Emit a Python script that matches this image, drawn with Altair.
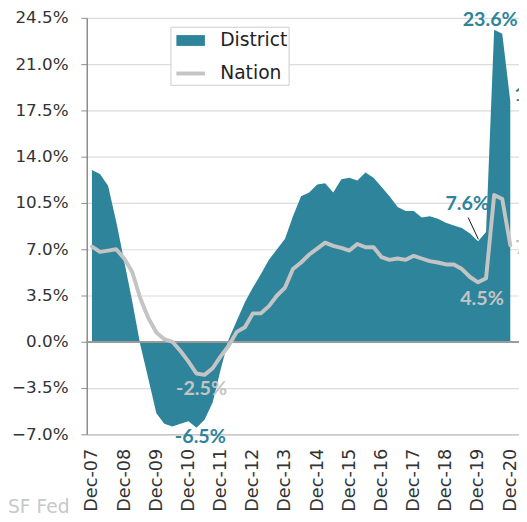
import altair as alt
import pandas as pd

# Quarterly observations, Dec-07 .. Dec-20
quarters = []
for i in range(53):
    m = 12 + 3 * i
    yr = 2007 + (m - 1) // 12
    mo = (m - 1) % 12 + 1
    quarters.append(f"{yr}/{mo:02d}/01")

district = [13.0, 12.7, 11.8, 9.1, 6.1, 3.1, -0.2, -2.8, -5.4, -6.2,
            -6.4, -6.2, -6.0, -6.5, -5.9, -4.6, -2.1, 0.2, 1.6, 3.0,
            4.1, 5.1, 6.2, 7.0, 7.8, 9.5, 11.0, 11.3, 11.9, 12.0,
            11.3, 12.3, 12.4, 12.2, 12.8, 12.4, 11.7, 11.0, 10.2, 9.9,
            9.9, 9.4, 9.5, 9.3, 9.0, 8.8, 8.6, 8.2, 7.6, 8.3,
            23.6, 23.3, 18.2]
nation = [7.2, 6.8, 6.9, 7.0, 6.3, 5.3, 3.3, 1.8, 0.7, 0.2,
          0.0, -0.7, -1.5, -2.4, -2.5, -2.0, -1.1, -0.3, 0.75, 1.1,
          2.15, 2.15, 2.7, 3.5, 4.1, 5.5, 6.0, 6.6, 7.05, 7.5,
          7.25, 7.1, 6.9, 7.4, 7.15, 7.15, 6.4, 6.2, 6.3, 6.2,
          6.5, 6.3, 6.1, 6.0, 5.85, 5.85, 5.5, 4.9, 4.5, 4.8,
          11.1, 10.8, 7.3]

series_names = ["District", "Nation"]
series_colors = ["#2e849b", "#c4c4c4"]
y_ticks = [-7.0, -3.5, 0.0, 3.5, 7.0, 10.5, 14.0, 17.5, 21.0, 24.5]
x_tick_years = list(range(2007, 2021))

# annotations
ann_dates = ["2020/06/01", "2020/12/01", "2019/12/01", "2019/12/01",
             "2011/06/01", "2011/03/01", "2020/12/01"]
ann_values = [23.6, 18.2, 7.6, 4.5, -2.5, -6.5, 7.3]
ann_texts = ["23.6%", "18.2%", "7.6%", "4.5%", "-2.5%", "-6.5%", "7.3%"]
ann_series = ["District", "District", "District", "Nation", "Nation", "District", "Nation"]
ann_style = [(-4, -10, "center"), (4, -6, "left"), (-11, -38, "center"),
             (4, 17, "center"), (-3, 14, "center"), (4, 9, "center"),
             (5, 3, "left")]
leader_start = ("2019/08/11", 9.4)
leader_end = ("2019/12/05", 7.75)

TEAL = series_colors[0]
GREY = series_colors[1]
FONT = "DejaVu Sans"

df = pd.DataFrame({"date": quarters, "District": district, "Nation": nation})

x_scale = alt.Scale(domain=[alt.DateTime(year=2007, month=10, date=3),
                            alt.DateTime(year=2021, month=3, date=10)])
x_axis = alt.Axis(
    values=[alt.DateTime(year=y, month=12, date=1) for y in x_tick_years],
    format="%b-%y", labelAngle=270, grid=False, ticks=False, tickSize=0,
    labelPadding=14, labelFont=FONT, labelFontSize=18, labelColor="#333333",
    domainColor="#c8c8c8", domainWidth=1.5, labelOverlap=False,
    labelSeparation=0, labelBound=False,
)


def xenc(field="date"):
    return alt.X(f"{field}:T", title=None, scale=x_scale, axis=x_axis)


y_scale = alt.Scale(domain=[-7, 24.5], nice=False, zero=False)
y_axis = alt.Axis(
    values=y_ticks, labelExpr="format(datum.value, '.1f') + '%'",
    labelFont=FONT, labelFontSize=17, labelColor="#333333",
    tickSize=6, tickColor="#8c8c8c", labelPadding=13,
    domainColor="#8c8c8c", domainWidth=1.5, labelOverlap=False,
    gridColor="#dcdcdc", gridWidth=1.2, title=None,
)


def yenc(field):
    return alt.Y(f"{field}:Q", scale=y_scale, axis=y_axis)


base = alt.Chart(df)

area = base.mark_area(color=TEAL, interpolate="linear").encode(
    x=xenc(), y=yenc("District"),
)

zero = base.mark_rule(color="#9a9a9a", strokeWidth=1.5).encode(y=alt.datum(0))

line = base.transform_calculate(series="'Nation'").mark_line(
    strokeJoin="round", strokeCap="round"
).encode(
    x=xenc(),
    y=yenc("Nation"),
    color=alt.Color(
        "series:N",
        scale=alt.Scale(domain=series_names, range=series_colors),
        legend=alt.Legend(
            title=None, orient="none", legendX=85, legendY=9,
            symbolType="M-2,0H2", symbolSize=210, symbolOffset=6.5,
            labelFont=FONT, labelFontSize=19, labelColor="#222222",
            labelExpr="datum.label + ' \u2009'",
            labelOffset=17, rowPadding=2, padding=1,
            strokeColor="#cccccc", fillColor="white",
        ),
    ),
    strokeWidth=alt.StrokeWidth(
        "series:N",
        scale=alt.Scale(domain=series_names, range=[11, 4]),
        legend=None,
    ),
)

ann_layers = []
for d, v, t, s, (dx, dy, al) in zip(ann_dates, ann_values, ann_texts, ann_series, ann_style):
    adf = pd.DataFrame({"date": [d], "value": [v], "text": [t]})
    ann_layers.append(
        alt.Chart(adf).mark_text(
            font="Lato", fontSize=20, fontWeight="bold", align=al,
            baseline="middle", dx=dx, dy=dy,
            color=TEAL if s == "District" else GREY,
        ).encode(x=xenc(), y=yenc("value"), text="text:N")
    )

leader_df = pd.DataFrame({
    "d1": [leader_start[0]], "v1": [leader_start[1]],
    "d2": [leader_end[0]], "v2": [leader_end[1]],
})
leader = alt.Chart(leader_df).mark_rule(color="#111111", strokeWidth=1).encode(
    x=xenc("d1"), y=yenc("v1"), x2="d2:T", y2="v2:Q"
)

source = alt.Chart(pd.DataFrame({"t": ["SF Fed"]})).mark_text(
    font=FONT, fontSize=19, color="#c8c8c8", align="left", baseline="alphabetic"
).encode(x=alt.value(-80), y=alt.value(503), text="t:N")

chart = alt.layer(area, zero, line, *ann_layers, leader, source).properties(
    width=439, height=423,
    padding={"left": 80, "top": 6, "right": 0, "bottom": 85},
    autosize=alt.AutoSizeParams(type="none"),
).configure_view(stroke=None).configure_axis(labelOverlap=False)

chart.save("out.html", embed_options={"renderer": "svg", "actions": False})
